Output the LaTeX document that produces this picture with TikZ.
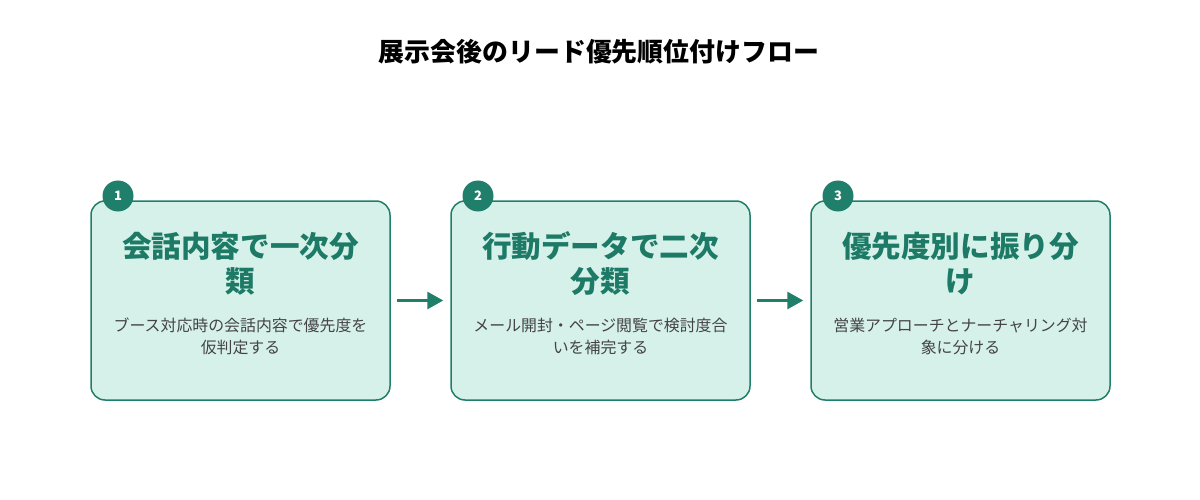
\documentclass[tikz,border=0pt]{standalone}
\usepackage{fontspec}
\setmainfont{Noto Sans CJK JP}
\usetikzlibrary{arrows.meta}
\definecolor{boxfill}{HTML}{D6F1E9}
\definecolor{boxline}{HTML}{1F7F6A}
\definecolor{titlegreen}{HTML}{1D7A66}
\definecolor{desc}{HTML}{444444}
\tikzset{
  stepbox/.style={draw=boxline, fill=boxfill, line width=1.5pt, rounded corners=14pt, minimum width=299pt, minimum height=199pt, inner sep=0pt},
  badge/.style={circle, fill=boxline, minimum size=31pt, inner sep=0pt, text=white, font=\fontsize{13pt}{13pt}\selectfont\bfseries},
  boxtitle/.style={text=titlegreen, font=\fontsize{29.6pt}{35pt}\selectfont\bfseries, align=center},
  boxdesc/.style={text=desc, font=\fontsize{15.9pt}{22pt}\selectfont, align=center},
  flow/.style={draw=boxline, line width=3pt, -{Triangle[length=16pt,width=17pt]}, shorten >=0pt}
}
\begin{document}
\begin{tikzpicture}[x=1pt,y=-1pt]
\useasboundingbox (0,0) rectangle (1200,500);
\node[font=\fontsize{25.9pt}{30pt}\selectfont\bfseries] (title) at (599,52) {展示会後のリード優先順位付けフロー};

\node[stepbox] (b1) at (240.5,300.5) {};
\node[stepbox] (b2) at (600.5,300.5) {};
\node[stepbox] (b3) at (960.5,300.5) {};

\node[badge] (n1) at (118,196) {1};
\node[badge] (n2) at (478,196) {2};
\node[badge] (n3) at (838,196) {3};

\node[boxtitle] (t1) at (240.5,263.5) {会話内容で一次分\\類};
\node[boxtitle] (t2) at (600.5,263.5) {行動データで二次\\分類};
\node[boxtitle] (t3) at (960.5,263.5) {優先度別に振り分\\け};

\node[boxdesc] (d1) at (240.5,336) {ブース対応時の会話内容で優先度を\\仮判定する};
\node[boxdesc] (d2) at (600.5,336) {メール開封・ページ閲覧で検討度合\\いを補完する};
\node[boxdesc] (d3) at (960.5,336) {営業アプローチとナーチャリング対\\象に分ける};

\draw[flow] ([xshift=6pt]b1.east) -- ([xshift=-7pt]b2.west);
\draw[flow] ([xshift=6pt]b2.east) -- ([xshift=-7pt]b3.west);
\end{tikzpicture}
\end{document}
